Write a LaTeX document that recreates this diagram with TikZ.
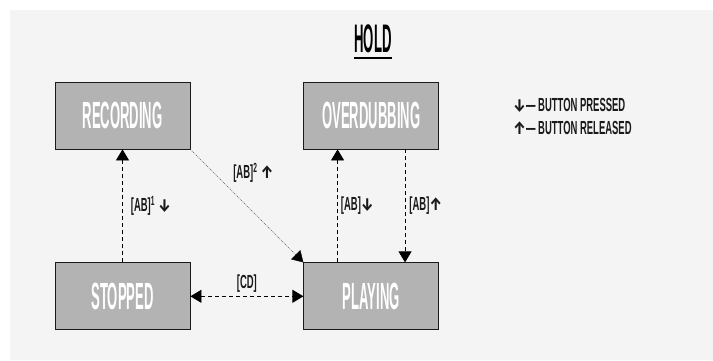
\documentclass[tikz,border=0pt]{standalone}
\usepackage{fontspec}
\usepackage{xcolor}
\usepackage{tikz}
\usetikzlibrary{arrows.meta,positioning}

\setmainfont{Liberation Sans}
% condensed faces (fake stretch of Liberation Sans)
\newfontfamily\statefont[FakeStretch=0.345]{Liberation Sans}
\newfontfamily\titlefont[FakeStretch=0.33]{Liberation Sans}
\newfontfamily\labelfont[FakeStretch=0.5]{Liberation Sans}
\newfontfamily\arrowfont[FakeStretch=0.8]{Fira Sans}
% button arrows
\newcommand{\arrdown}{{\arrowfont\fontsize{18}{18}\selectfont ↓}}
\newcommand{\arrup}{{\arrowfont\fontsize{18}{18}\selectfont ↑}}

\definecolor{panelgray}{HTML}{F4F4F4}
\definecolor{boxgray}{HTML}{B3B3B3}
\definecolor{inkgray}{HTML}{1A1A1A}

\begin{document}
\begin{tikzpicture}[x=1bp,y=1bp,
  >={Triangle[length=11bp,width=13bp]},
  node distance=113bp,
  state/.style={draw=inkgray, line width=0.8bp, fill=boxgray, text=white,
    minimum width=135bp, minimum height=67bp, inner sep=0pt,
    font=\statefont\bfseries\fontsize{38}{38}\selectfont},
  trans/.style={->, draw=black, line width=0.8bp, dash pattern=on 4bp off 3bp},
  hint/.style={-{Triangle[length=11bp,width=13bp,color=black]}, draw=black!65,
    line width=0.4bp, dash pattern=on 1bp off 1bp},
  lbl/.style={inner sep=0pt, text=inkgray,
    font=\labelfont\bfseries\fontsize{19}{19}\selectfont}]

  % page and panel
  \useasboundingbox (0,0) rectangle (713,360);
  \fill[panelgray] (10,0) rectangle (713,350);

  % title
  \node[inner sep=0pt, font=\titlefont\bfseries\fontsize{40}{40}\selectfont] (title) at (373,321) {HOLD};
  \draw[line width=2bp] ([yshift=-5bp]title.south west) -- ([yshift=-5bp]title.south east);

  % states
  \node[state] (recording) at (122.5,244.5) {RECORDING};
  \node[state, right=of recording] (overdubbing) {OVERDUBBING};
  \node[state, below=of recording] (stopped) {STOPPED};
  \node[state, right=of stopped] (playing) {PLAYING};

  % transitions
  \draw[trans] (stopped) -- node[lbl, right=8bp] (abdown1) {[AB]\textsuperscript{1}\,\arrdown} (recording);
  \draw[hint] (recording.south east) -- node[lbl, pos=0.21, right=19bp] (abup2) {[AB]\textsuperscript{2}\,\arrup} (playing.north west);
  \draw[trans] ([xshift=-33.75bp]playing.north) -- node[lbl, right=3bp] (abdown) {[AB]\arrdown} ([xshift=-33.75bp]overdubbing.south);
  \draw[trans] ([xshift=33.75bp]overdubbing.south) -- node[lbl, right=4bp] (abup) {[AB]\arrup} ([xshift=33.75bp]playing.north);
  \draw[trans, <->] (stopped) -- node[lbl, above=3bp] (cd) {[CD]} (playing);

  % legend
  \node[lbl, anchor=west] (pressed) at (513,255) {\arrdown— BUTTON PRESSED};
  \node[lbl, anchor=west] (released) at (513,232) {\arrup— BUTTON RELEASED};
\end{tikzpicture}
\end{document}
